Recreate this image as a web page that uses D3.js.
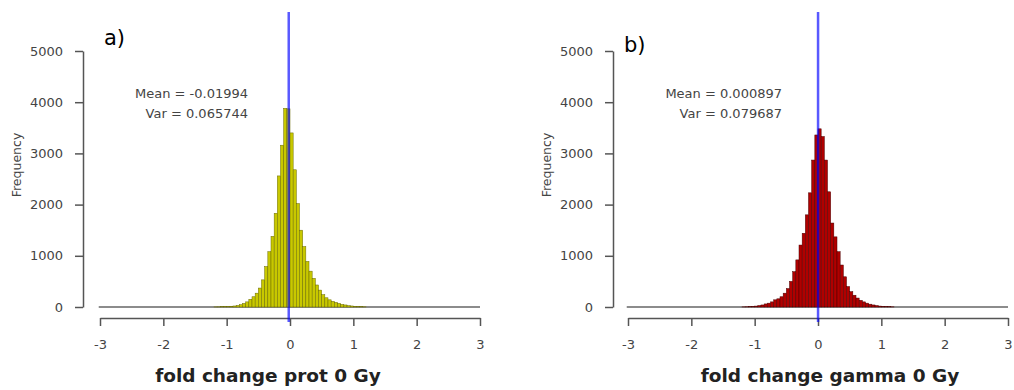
<!DOCTYPE html>
<html>
<head>
<meta charset="utf-8">
<script src="https://cdnjs.cloudflare.com/ajax/libs/d3/7.8.5/d3.min.js"></script>
<style>
  body { margin:0; background:#fff; }
  text { font-family: "DejaVu Sans", sans-serif; }
</style>
</head>
<body>
<div id="chart-area"></div>
<script>

// bin left edges (width 0.05) shared by both histograms
var binLeft = [-1.20,-1.15,-1.10,-1.05,-1.00,-0.95,-0.90,-0.85,-0.80,-0.75,-0.70,-0.65,
	-0.60,-0.55,-0.50,-0.45,-0.40,-0.35,-0.30,-0.25,-0.20,-0.15,-0.10,-0.05,
	0.00,0.05,0.10,0.15,0.20,0.25,0.30,0.35,0.40,0.45,0.50,0.55,
	0.60,0.65,0.70,0.75,0.80,0.85,0.90,0.95,1.00,1.05,1.10,1.15];
var binWidth = 0.05;

var protCounts = [2,3,5,8,10,15,20,30,45,70,100,150,
	200,270,370,530,790,1080,1380,1830,2560,3160,3880,3870,
	3400,2680,2020,1500,1180,890,700,560,430,330,240,180,
	140,110,90,70,50,40,25,20,12,8,5,3];

var gammaCounts = [2,4,7,12,18,28,40,60,75,100,140,160,
	200,270,360,500,690,920,1210,1440,1800,2230,2870,3360,
	3480,3330,2870,2250,1640,1370,1080,820,590,400,300,230,
	175,130,100,75,55,40,28,18,12,8,5,3];

var xTicks = [-3,-2,-1,0,1,2,3];
var yTicks = [0,1000,2000,3000,4000,5000];

var panelTags = ["a)", "b)"];
var xTitles = ["fold change prot 0 Gy", "fold change gamma 0 Gy"];
var meanText = ["Mean = -0.01994", "Mean = 0.000897"];
var varText = ["Var = 0.065744", "Var = 0.079687"];
var means = [-0.01994, 0.000897];

var svg = d3.select("#chart-area")
	.append("svg")
		.attr("width", 1014)
		.attr("height", 390);

function plainNum(d){ return String(d); }   // keep ascii hyphen like R

function drawPanel(i, counts, fill, opt){

	var x = d3.scaleLinear().domain([-3,3]).range([opt.x0, opt.x1]);
	var y = d3.scaleLinear().domain([0,5000]).range([307, 51]);

	var g = svg.append("g");

	// zero baseline across the whole range
	g.append("line")
		.attr("x1", x(-3.02)).attr("x2", x(3))
		.attr("y1", y(0)).attr("y2", y(0))
		.attr("stroke", "#666")
		.attr("stroke-width", 1.6);

	// bars
	g.selectAll("rect.bar")
		.data(binLeft)
		.enter().append("rect")
			.attr("class", "bar")
			.attr("x", function(d){ return x(d); })
			.attr("width", function(d){ return x(d + binWidth) - x(d); })
			.attr("y", function(d,j){ return y(counts[j]); })
			.attr("height", function(d,j){ return y(0) - y(counts[j]); })
			.attr("fill", fill)
			.attr("stroke", opt.stroke)
			.attr("stroke-width", 0.5);

	// x axis
	var xAxis = d3.axisBottom(x)
		.tickValues(xTicks)
		.tickSize(8)
		.tickSizeOuter(0)
		.tickPadding(14)
		.tickFormat(plainNum);

	var gx = g.append("g")
		.attr("transform", "translate(0,318)")
		.call(xAxis);
	gx.select(".domain").attr("stroke", "#555").attr("stroke-width", 1.5);
	gx.selectAll(".tick line").attr("stroke", "#555").attr("stroke-width", 1.5);
	gx.selectAll(".tick text")
		.attr("font-size", "13px")
		.attr("fill", "#444")
		.attr("font-family", "DejaVu Sans, sans-serif");

	// y axis
	var yAxis = d3.axisLeft(y)
		.tickValues(yTicks)
		.tickSize(8)
		.tickSizeOuter(0)
		.tickPadding(12)
		.tickFormat(plainNum);

	var gy = g.append("g")
		.attr("transform", "translate(" + opt.yAxisX + ",0)")
		.call(yAxis);
	gy.select(".domain").attr("stroke", "#555").attr("stroke-width", 1.5);
	gy.selectAll(".tick line").attr("stroke", "#555").attr("stroke-width", 1.5);
	gy.selectAll(".tick text")
		.attr("font-size", "13px")
		.attr("fill", "#444")
		.attr("font-family", "DejaVu Sans, sans-serif");

	// mean line
	g.append("line")
		.attr("x1", x(means[i])).attr("x2", x(means[i]))
		.attr("y1", 12).attr("y2", 322)
		.attr("stroke", "#0000ff")
		.attr("stroke-opacity", 0.65)
		.attr("stroke-width", 2.5);

	// y label
	g.append("text")
		.attr("transform", "translate(" + opt.ylabX + ",165) rotate(-90)")
		.attr("text-anchor", "middle")
		.attr("font-size", "12.5px")
		.attr("fill", "#444")
		.text("Frequency");

	// x label
	g.append("text")
		.attr("x", opt.xlabX)
		.attr("y", 382)
		.attr("text-anchor", "middle")
		.attr("font-size", "18.5px")
		.attr("font-weight", "bold")
		.attr("fill", "#222")
		.text(xTitles[i]);

	// stats
	g.append("text")
		.attr("x", opt.statX)
		.attr("y", 98)
		.attr("text-anchor", "end")
		.attr("font-size", "13px")
		.attr("fill", "#444")
		.text(meanText[i]);

	g.append("text")
		.attr("x", opt.statX)
		.attr("y", 118)
		.attr("text-anchor", "end")
		.attr("font-size", "13px")
		.attr("fill", "#444")
		.text(varText[i]);

	// panel tag
	g.append("text")
		.attr("x", opt.tagX)
		.attr("y", opt.tagY)
		.attr("font-size", "21px")
		.attr("font-family", "Open Sans, sans-serif")
		.attr("fill", "#000")
		.text(panelTags[i]);
}

drawPanel(0, protCounts, "#c8c800", {
	x0:100, x1:480, yAxisX:83, ylabX:21, xlabX:268, statX:248, tagX:104, tagY:45, stroke:"#6a6a00"
});

drawPanel(1, gammaCounts, "#b00000", {
	x0:628, x1:1008, yAxisX:613, ylabX:551, xlabX:830, statX:782, tagX:624, tagY:52, stroke:"#4a0000"
});

</script>
</body>
</html>
